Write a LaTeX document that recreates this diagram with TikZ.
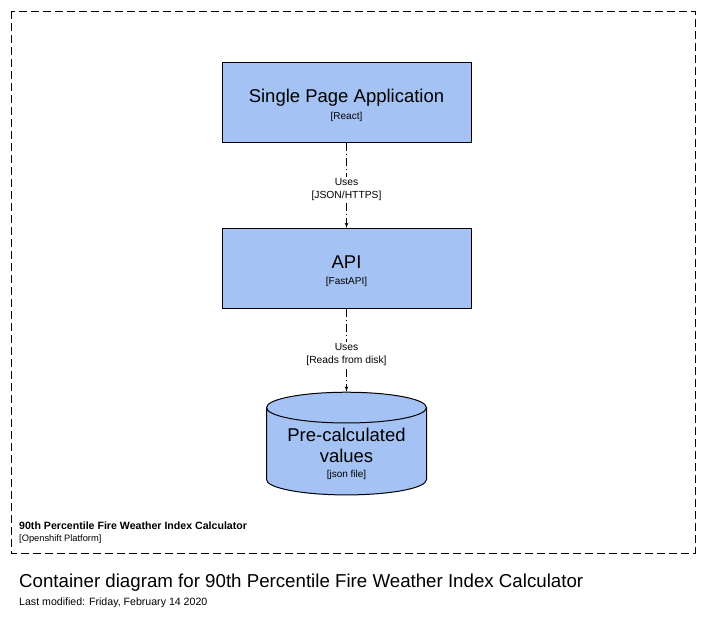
\documentclass[tikz,border=0pt]{standalone}
\usepackage{fontspec}
\setmainfont{Liberation Sans}
\usetikzlibrary{arrows, shapes.geometric}
\definecolor{boxblue}{HTML}{A4C2F4}

\begin{document}
\begin{tikzpicture}[x=1pt, y=-1pt]

\tikzset{container/.style = {shape=rectangle, draw, fill=boxblue, line width=1pt, minimum width=249pt, minimum height=80pt, align=center, inner sep=0pt, font=\fontsize{18.5}{20}\selectfont}}
\tikzset{store/.style = {shape=cylinder, shape border rotate=90, aspect=0.26, draw, fill=boxblue, line width=1pt, minimum width=160pt, minimum height=88pt, align=center, inner sep=0pt, font=\fontsize{18.5}{21}\selectfont}}
\tikzset{edge/.style = {->, > = latex', line width=0.8pt, dash pattern=on 8pt off 3pt on 1pt off 3pt}}
\tikzset{edgelabel/.style = {fill=white, font=\fontsize{10.3}{13}\selectfont, align=center, inner sep=1pt, yshift=-4pt}}
\tikzset{boundary/.style = {draw, line width=1pt, dash pattern=on 8pt off 4pt}}
\newcommand{\techtext}[1]{{\fontsize{10}{12}\selectfont #1}}

\useasboundingbox (0,0) rectangle (722,622);
%boundary
\draw[boundary] (11,11) rectangle (695,553);
\node[anchor=west, inner sep=0pt, font=\fontsize{10.6}{12}\selectfont\bfseries] (sysname) at (19,526) {90th Percentile Fire Weather Index Calculator};
\node[anchor=west, inner sep=0pt, font=\fontsize{9.3}{11}\selectfont] (systech) at (19,539) {[Openshift Platform]};
%containers
\node[container] (spa) at (346.5,102) {\mbox{}\\[0pt]Single Page Application\\[-3.5pt]\techtext{[React]}};
\node[container] (api) at (346.5,268.5) {\mbox{}\\[-2pt]API\\[-3.5pt]\techtext{[FastAPI]}};
\node[store] (values) at (346.5,451.5) {\mbox{}\\[-2.5pt]Pre-calculated\\values\\[-6.5pt]\techtext{[json file]}};
%edges
\draw[edge] (spa) -- (api) node[midway, edgelabel] (uses1) {Uses\\{[JSON/HTTPS]}};
\draw[edge] (api) -- (values) node[midway, edgelabel] (uses2) {Uses\\{[Reads from disk]}};
%title
\node[anchor=west, inner sep=0pt, font=\fontsize{18.7}{20}\selectfont] (title) at (19,583) {Container diagram for 90th Percentile Fire Weather Index Calculator};
\node[anchor=west, inner sep=0pt, font=\fontsize{10.6}{12}\selectfont] (modified) at (19,603) {Last modified: Friday, February 14 2020};

\end{tikzpicture}
\end{document}
